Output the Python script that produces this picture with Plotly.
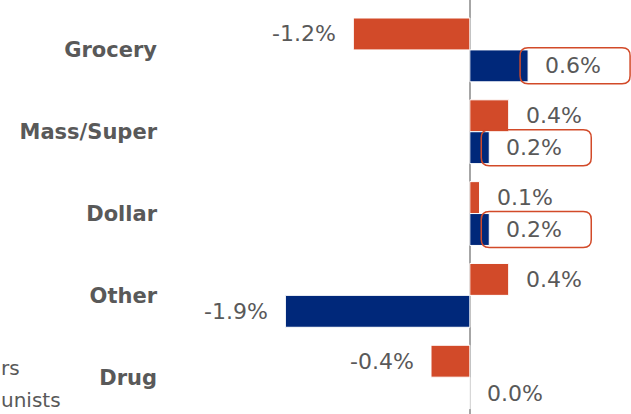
import plotly.graph_objects as go

# channel change, percentage points
channels = ["Grocery", "Mass/Super", "Dollar", "Other", "Drug"]
orange_vals = [-1.2, 0.4, 0.1, 0.4, -0.4]
blue_vals = [0.6, 0.2, 0.2, -1.9, 0.0]
boxed = [True, True, True, False, False]  # blue labels circled in the source

ORANGE = "#D24A29"
BLUE = "#00287A"
GREY = "#595959"
FONT = "DejaVu Sans"
BAR_OFF = 0.195  # half of a bar's width in category units

fig = go.Figure()
fig.add_trace(go.Bar(y=channels, x=orange_vals, orientation="h", marker_color=ORANGE,
                     marker_line=dict(color="white", width=1), showlegend=False))
fig.add_trace(go.Bar(y=channels, x=blue_vals, orientation="h", marker_color=BLUE,
                     marker_line=dict(color="white", width=1), showlegend=False))


def fmt(v):
    return "{:.1f}%".format(v)


annotations = []
shapes = []
for i, name in enumerate(channels):
    for val, off in ((orange_vals[i], -BAR_OFF), (blue_vals[i], BAR_OFF)):
        annotations.append(dict(
            x=val, y=i + off, xref="x", yref="y", text=fmt(val), showarrow=False,
            xanchor="left" if val >= 0 else "right", xshift=15 if val >= 0 else -15,
            font=dict(family=FONT, size=22, color=GREY)))
    if boxed[i]:
        x0, x1, y0, y1, r = -8, 102, -18, 18, 8
        path = ("M {a},{y0} L {b},{y0} Q {x1},{y0} {x1},{c} L {x1},{d} Q {x1},{y1} {b},{y1} "
                "L {a},{y1} Q {x0},{y1} {x0},{d} L {x0},{c} Q {x0},{y0} {a},{y0} Z").format(
            a=x0 + r, b=x1 - r, c=y0 + r, d=y1 - r, x0=x0, x1=x1, y0=y0, y1=y1)
        shapes.append(dict(type="path", xref="x", yref="y", xsizemode="pixel", ysizemode="pixel",
                           xanchor=blue_vals[i], yanchor=i + BAR_OFF, path=path,
                           line=dict(color=ORANGE, width=1.5), fillcolor="rgba(0,0,0,0)"))

# legend text cut off at the left edge of the source
annotations.append(dict(x=-0.356, y=0.111, xref="paper", yref="paper", text="rs", showarrow=False,
                        xanchor="left", yanchor="middle", font=dict(family=FONT, size=20, color=GREY)))
annotations.append(dict(x=-0.356, y=0.034, xref="paper", yref="paper", text="unists", showarrow=False,
                        xanchor="left", yanchor="middle", font=dict(family=FONT, size=20, color=GREY)))

fig.update_layout(
    width=631, height=414,
    margin=dict(l=165, r=0, t=0, b=0, autoexpand=False),
    paper_bgcolor="white", plot_bgcolor="white",
    barmode="group", bargap=0.22, bargroupgap=0,
    annotations=annotations, shapes=shapes,
    xaxis=dict(range=[-3.14, 1.66], showgrid=False, showticklabels=False, zeroline=True,
               zerolinecolor="#A6A6A6", zerolinewidth=1.5, automargin=False),
    yaxis=dict(categoryorder="array", categoryarray=channels, range=[4.45, -0.61],
               showgrid=False, zeroline=False, ticks="", ticklabelstandoff=7, automargin=False,
               tickfont=dict(family=FONT, size=21, color=GREY, weight="bold")),
)

# drop the page's default 8px body margin so the figure sits at the window corner
fig.write_html("out.html", config={"displayModeBar": False},
               post_script="document.body.style.margin='0';document.body.style.overflow='hidden';")
